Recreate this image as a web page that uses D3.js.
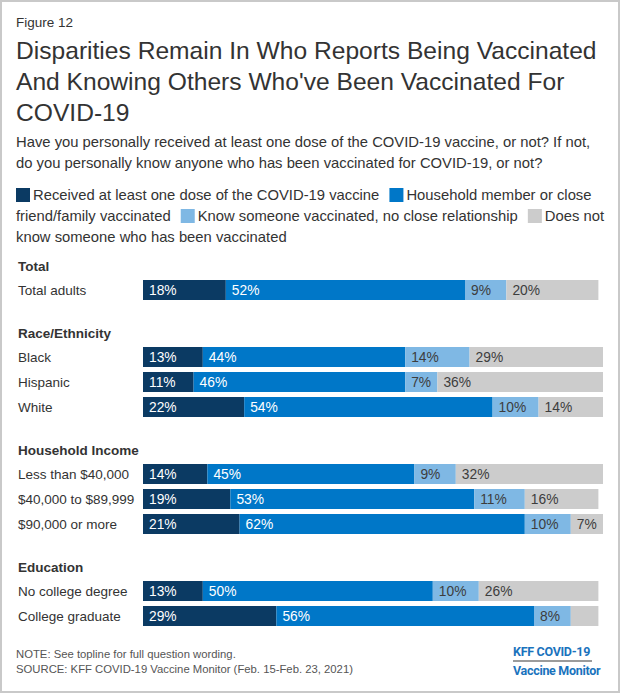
<!DOCTYPE html>
<html>
<head>
<meta charset="utf-8">
<script src="https://cdn.jsdelivr.net/npm/d3@7"></script>
<style>
  body { margin: 0; background: #fff; }
  svg { display: block; font-family: "Liberation Sans", Arial, sans-serif; }
</style>
</head>
<body>
<div id="chart"></div>
<script>
const W = 620, H = 693

// data
const groups = ["Total", "Race/Ethnicity", "Household Income", "Education"]
const rowLabels = [
  ["Total adults"],
  ["Black", "Hispanic", "White"],
  ["Less than $40,000", "$40,000 to $89,999", "$90,000 or more"],
  ["No college degree", "College graduate"]
]
const seriesNames = [
  "Received at least one dose of the COVID-19 vaccine",
  "Household member or close friend/family vaccinated",
  "Know someone vaccinated, no close relationship",
  "Does not know someone who has been vaccinated"
]
const received = [18, 13, 11, 22, 14, 19, 21, 13, 29]
const closeKnown = [52, 44, 46, 54, 45, 53, 62, 50, 56]
const otherKnown = [9, 14, 7, 10, 9, 11, 10, 10, 8]
const notKnown = [20, 29, 36, 14, 32, 16, 7, 26, 6]
const showLabel = [
  [true, true, true, true, true, true, true, true, true],
  [true, true, true, true, true, true, true, true, true],
  [true, true, true, true, true, true, true, true, true],
  [true, true, true, true, true, true, true, true, false]
]

const colors = ["#0b3a63", "#0077c8", "#7fb8e4", "#cccccc"]
const textColors = ["#ffffff", "#ffffff", "#3d3d3d", "#3d3d3d"]

const svg = d3.select("#chart").append("svg")
  .attr("width", W)
  .attr("height", H)

svg.append("rect")
  .attr("x", 1).attr("y", 1)
  .attr("width", W - 2).attr("height", H - 2)
  .attr("fill", "#fff")
  .attr("stroke", "#c9c9c9")
  .attr("stroke-width", 2)

svg.append("text")
  .attr("x", 16).attr("y", 27)
  .attr("font-size", 13.5).attr("fill", "#333")
  .text("Figure 12")

const titleLines = [
  "Disparities Remain In Who Reports Being Vaccinated",
  "And Knowing Others Who've Been Vaccinated For",
  "COVID-19"
]
svg.append("g").selectAll("text")
  .data(titleLines)
  .join("text")
    .attr("x", 16)
    .attr("y", (d, i) => 59 + i * 31)
    .attr("font-size", 24.6)
    .attr("fill", "#333")
    .text(d => d)

const subLines = [
  "Have you personally received at least one dose of the COVID-19 vaccine, or not? If not,",
  "do you personally know anyone who has been vaccinated for COVID-19, or not?"
]
svg.append("g").selectAll("text")
  .data(subLines)
  .join("text")
    .attr("x", 16)
    .attr("y", (d, i) => 147 + i * 21)
    .attr("font-size", 14.8)
    .attr("fill", "#333")
    .text(d => d)

// legend, flowing like wrapped text
const legend = svg.append("g").attr("font-size", 14.8).attr("fill", "#333")
const legLeft = 16, legRight = 608, legTop = 200, legLine = 21
let lx = legLeft, ly = legTop
const measure = legend.append("text").attr("visibility", "hidden")
const textW = s => { measure.text(s); return measure.node().getComputedTextLength() }
const spaceW = textW("a b") - textW("ab")
seriesNames.forEach((name, i) => {
  if (lx + 14 > legRight) { lx = legLeft; ly += legLine }
  legend.append("rect")
    .attr("x", lx).attr("y", ly - 12)
    .attr("width", 14).attr("height", 14)
    .attr("fill", colors[i])
  lx += 17
  name.split(" ").forEach((word, j) => {
    const w = textW(word)
    if (lx + w > legRight) { lx = legLeft; ly += legLine }
    legend.append("text").attr("x", lx).attr("y", ly).text(word)
    lx += w + spaceW
  })
  lx += 6
})
measure.remove()

// rows
const x = d3.scaleLinear().domain([0, 100]).range([143, 603])
const rowStep = 25, groupGap = 42, barH = 20
const rows = []
let cy = 290
groups.forEach((g, gi) => {
  rows.push({header: g, y: cy - 24})
  rowLabels[gi].forEach(label => {
    rows.push({label, y: cy, idx: rows.filter(r => r.label).length})
    cy += rowStep
  })
  cy += groupGap
})

const headers = rows.filter(r => r.header)
svg.append("g").selectAll("text")
  .data(headers)
  .join("text")
    .attr("x", 18)
    .attr("y", d => d.y + 5)
    .attr("font-size", 13.5)
    .attr("font-weight", "bold")
    .attr("fill", "#333")
    .text(d => d.header)

const barRows = rows.filter(r => r.label)
const series = [received, closeKnown, otherKnown, notKnown]
const stacked = barRows.map(r => {
  let acc = 0
  return series.map((s, si) => {
    const v = s[r.idx]
    const seg = {si, v, x0: acc, x1: acc + v, y: r.y, show: showLabel[si][r.idx]}
    acc += v
    return seg
  })
})

const rowG = svg.append("g").selectAll("g")
  .data(stacked)
  .join("g")

rowG.selectAll("rect")
  .data(d => d)
  .join("rect")
    .attr("x", d => x(d.x0))
    .attr("y", d => d.y - barH / 2)
    .attr("width", d => x(d.x1) - x(d.x0))
    .attr("height", barH)
    .attr("fill", d => colors[d.si])

rowG.selectAll("text")
  .data(d => d.filter(s => s.show))
  .join("text")
    .attr("x", d => x(d.x0) + 6)
    .attr("y", d => d.y + 5)
    .attr("font-size", 13.8)
    .attr("fill", d => textColors[d.si])
    .text(d => d.v + "%")

svg.append("g").selectAll("text")
  .data(barRows)
  .join("text")
    .attr("x", 18)
    .attr("y", d => d.y + 5)
    .attr("font-size", 13.5)
    .attr("fill", "#333")
    .text(d => d.label)

// footer
svg.append("text")
  .attr("x", 16).attr("y", 658)
  .attr("font-size", 11.3).attr("fill", "#555")
  .text("NOTE: See topline for full question wording.")
svg.append("text")
  .attr("x", 16).attr("y", 673)
  .attr("font-size", 11.3).attr("fill", "#555")
  .text("SOURCE: KFF COVID-19 Vaccine Monitor (Feb. 15-Feb. 23, 2021)")

const logo = svg.append("g")
  .attr("font-family", "Roboto, sans-serif")
  .attr("font-weight", "bold")
  .attr("font-size", 12.5)
  .attr("letter-spacing", -0.3)
  .attr("fill", "#1a73bd")
logo.append("text").attr("x", 513).attr("y", 656).text("KFF COVID-19")
logo.append("line")
  .attr("x1", 513).attr("x2", 592)
  .attr("y1", 661).attr("y2", 661)
  .attr("stroke", "#7a7a7a").attr("stroke-width", 1.5)
logo.append("text").attr("x", 513).attr("y", 675).text("Vaccine Monitor")
</script>
</body>
</html>
